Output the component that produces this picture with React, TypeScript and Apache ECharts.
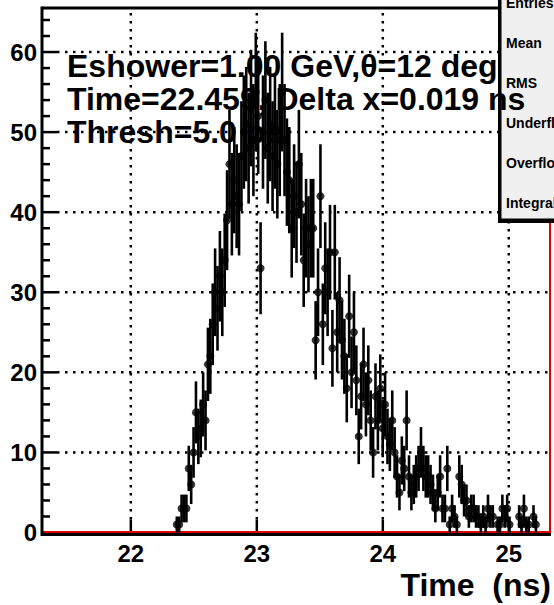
import React, { useEffect, useRef } from "react";
import * as echarts from "echarts";

const X_MIN = 21.295;
const X_MAX = 25.335;
const Y_MIN = 0;
const Y_MAX = 65.5;
const FIRST_BIN_CENTER = 22.365;
const BIN_WIDTH = 0.019;

// counts per bin (null = empty bin, not drawn)
const binCounts: (number | null)[] = [
  1, 1, 3, 3, 3, 8, 6, 10, 15, 12,
  13, 16, 14, 21, 22, 26, 30, 28, 32, 30,
  34, 39, 46, 41, 44, 42, 41, 47, 50, 51,
  48, 53, 49, 55, 52, 33, 50, 54, 48, 51,
  47, 50, 46, 49, 55, 49, 45, 44, 38, 42,
  40, 46, 41, 34, 38, 36, 38, 38, 24, 30,
  42, 26, 33, 30, 35, 23, 35, 25, 29, 24,
  22, 18, 27, 20, 25, 19, 12, 17, 21, 16,
  19, 14, 10, 17, 14, 18, 13, 16, 12, 11,
  14, 10, 7, 5, 9, 8, 14, 7, 5, 6,
  7, 8, 10, 8, 7, 7, 6, 5, 3, 5,
  7, 3, 3, 8, 1, 3, 2, 1, 7, 6,
  4, 4, 2, 3, 3, 2, 2, 1, 2, 1,
  3, 2, 2, null, 1, 1, 3, 2, 3, 1,
  null, null, null, 2, 1, 3, 1, 1, null, 2,
  1,
];

const xTickValues = [22, 23, 24, 25];
const xTickLabels = ["22", "23", "24", "25"];
const yTickValues = [0, 10, 20, 30, 40, 50, 60];
const yMinorTickValues = [2, 4, 6, 8, 12, 14, 16, 18, 22, 24, 26, 28, 32, 34, 36, 38, 42, 44, 46, 48, 52, 54, 56, 58, 62, 64];
const titleLines = ["Eshower=1.00 GeV,\u03b8=12 deg", "Time=22.459, Delta x=0.019 ns", "Thresh=5.0 pe"];
const statLabels = ["Entries", "Mean", "RMS", "Underflow", "Overflow", "Integral"];
const xAxisTitle = "Time  (ns)";

const FONT = "'Liberation Sans', Arial, Helvetica, sans-serif";

export default function App() {
  const ref = useRef<HTMLDivElement>(null);
  useEffect(() => {
    const chart = echarts.init(ref.current!, null, { renderer: "svg" });
    const points: number[][] = [];
    binCounts.forEach((c, k) => {
      if (c !== null && c > 0) points.push([FIRST_BIN_CENTER + k * BIN_WIDTH, c, Math.sqrt(c)]);
    });

    const titleElems = titleLines.map((t, i) => ({
      type: "text",
      x: 67,
      y: 66 + i * 33,
      z: 4,
      style: {
        text: t,
        fill: "#000",
        fontSize: 32,
        fontWeight: "bold",
        fontFamily: FONT,
        align: "left",
        verticalAlign: "middle",
      },
    }));
    const statElems = statLabels.map((t, i) => ({
      type: "text",
      x: 506,
      y: 3 + i * 40,
      z: 4,
      style: {
        text: t,
        fill: "#000",
        fontSize: 14,
        fontWeight: "bold",
        fontFamily: FONT,
        align: "left",
        verticalAlign: "middle",
      },
    }));

    const option: any = {
      animation: false,
      grid: { left: 42, top: 8, right: 3, bottom: 72.5, containLabel: false },
      xAxis: {
        type: "value",
        min: X_MIN,
        max: X_MAX,
        axisLine: { show: false },
        axisTick: { show: false },
        axisLabel: { show: false },
        splitLine: { show: false },
      },
      yAxis: {
        type: "value",
        min: Y_MIN,
        max: Y_MAX,
        interval: 10,
        axisLine: { show: false },
        axisTick: { show: false },
        splitLine: { show: false },
        axisLabel: {
          color: "#000",
          fontSize: 24,
          fontWeight: "bold",
          fontFamily: FONT,
          margin: 5,
          formatter: (v: number) => (Math.abs(v % 10) < 1e-9 ? String(v) : ""),
        },
      },
      graphic: {
        elements: [
          { type: "rect", z: 3, shape: { x: 498, y: -5, width: 62, height: 228 }, style: { fill: "#000" } },
          { type: "rect", z: 3, shape: { x: 501, y: -5, width: 60, height: 224 }, style: { fill: "#f0f0f0", stroke: "#000", lineWidth: 1 } },
          ...statElems,
          ...titleElems,
          {
            type: "text",
            x: 551,
            y: 585,
            z: 4,
            style: { text: xAxisTitle, fill: "#000", fontSize: 32, fontWeight: "bold", fontFamily: FONT, align: "right", verticalAlign: "middle" },
          },
        ],
      },
      series: [
        {
          type: "custom",
          name: "xGrid",
          z: 1,
          clip: false,
          data: xTickValues.map((v) => [v, Y_MIN]),
          renderItem: (params: any, api: any) => {
            const v = api.value(0);
            const b = api.coord([v, Y_MIN]);
            const t = api.coord([v, Y_MAX]);
            return {
              type: "group",
              children: [
                { type: "line", shape: { x1: b[0], y1: b[1] - 13, x2: t[0], y2: t[1] }, style: { stroke: "#000", lineWidth: 2.5, lineDash: [2.5, 5.5] } },
                { type: "line", shape: { x1: b[0], y1: b[1], x2: b[0], y2: b[1] - 13 }, style: { stroke: "#000", lineWidth: 2.5 } },
                {
                  type: "text",
                  x: b[0],
                  y: b[1] + 21,
                  style: { text: xTickLabels[params.dataIndex], fill: "#000", fontSize: 24, fontWeight: "bold", fontFamily: FONT, align: "center", verticalAlign: "middle" },
                },
              ],
            };
          },
        },
        {
          type: "custom",
          name: "yGrid",
          z: 1,
          clip: false,
          data: yTickValues.map((v) => [X_MIN, v]),
          renderItem: (params: any, api: any) => {
            const v = api.value(1);
            const l = api.coord([X_MIN, v]);
            const r = api.coord([X_MAX, v]);
            const children: any[] = [
              { type: "line", shape: { x1: l[0], y1: l[1], x2: l[0] + 15, y2: l[1] }, style: { stroke: "#000", lineWidth: 2.5 } },
            ];
            if (v > 0) {
              children.push({ type: "line", shape: { x1: l[0] + 15, y1: l[1], x2: r[0], y2: r[1] }, style: { stroke: "#000", lineWidth: 2.5, lineDash: [2.5, 5.5] } });
            }
            return { type: "group", children };
          },
        },
        {
          type: "custom",
          name: "yMinor",
          z: 1,
          clip: false,
          data: yMinorTickValues.map((v) => [X_MIN, v]),
          renderItem: (params: any, api: any) => {
            const l = api.coord([X_MIN, api.value(1)]);
            return { type: "line", shape: { x1: l[0], y1: l[1], x2: l[0] + 8, y2: l[1] }, style: { stroke: "#000", lineWidth: 2.5 } };
          },
        },
        {
          type: "custom",
          name: "frame",
          z: 2,
          clip: false,
          data: [[X_MIN, Y_MIN, X_MAX, Y_MAX]],
          renderItem: (params: any, api: any) => {
            const bl = api.coord([X_MIN, Y_MIN]);
            const tr = api.coord([X_MAX, Y_MAX]);
            return {
              type: "group",
              children: [
                { type: "line", shape: { x1: bl[0], y1: tr[1], x2: tr[0], y2: tr[1] }, style: { stroke: "#000", lineWidth: 3 } },
                { type: "line", shape: { x1: tr[0] - 1, y1: tr[1], x2: tr[0] - 1, y2: bl[1] }, style: { stroke: "#e00000", lineWidth: 2 } },
                { type: "line", shape: { x1: bl[0], y1: bl[1] - 0.5, x2: tr[0], y2: bl[1] - 0.5 }, style: { stroke: "#e00000", lineWidth: 2 } },
                { type: "line", shape: { x1: bl[0], y1: bl[1] + 2, x2: tr[0], y2: bl[1] + 2 }, style: { stroke: "#000", lineWidth: 3 } },
                { type: "line", shape: { x1: bl[0], y1: tr[1] - 1.5, x2: bl[0], y2: bl[1] + 3.5 }, style: { stroke: "#000", lineWidth: 3 } },
              ],
            };
          },
        },
        {
          type: "custom",
          name: "errors",
          z: 5,
          data: points,
          renderItem: (params: any, api: any) => {
            const x = api.value(0);
            const y = api.value(1);
            const e = api.value(2);
            const p1 = api.coord([x, Math.max(Y_MIN, y - e)]);
            const p2 = api.coord([x, y + e]);
            return { type: "line", shape: { x1: p1[0], y1: p1[1], x2: p2[0], y2: p2[1] }, style: { stroke: "#000", lineWidth: 2.6 } };
          },
        },
        {
          type: "scatter",
          name: "counts",
          z: 6,
          symbol: "circle",
          symbolSize: 8,
          itemStyle: { color: "#000" },
          data: points.map((p) => [p[0], p[1]]),
        },
      ],
    };
    chart.setOption(option);
    return () => chart.dispose();
  }, []);
  return <div ref={ref} style={{ position: "absolute", left: 0, top: 0, width: 554, height: 605 }} />;
}
